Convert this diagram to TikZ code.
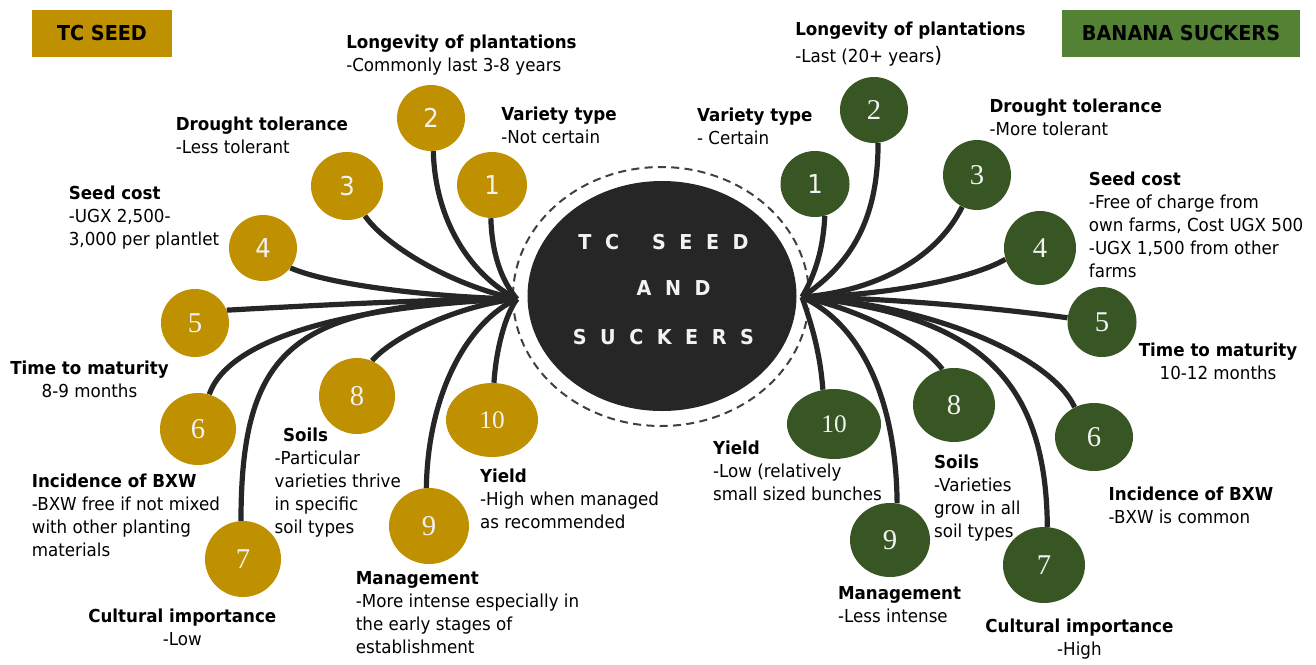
\documentclass[tikz,border=0pt]{standalone}
\usepackage{fontspec}
\setmainfont{DejaVu Sans}[FakeStretch=0.935]
\newfontfamily\numserif{Liberation Serif}
\usetikzlibrary{shapes.geometric}
\definecolor{gold}{HTML}{BF9000}
\definecolor{dgreen}{HTML}{375623}
\definecolor{lgreen}{HTML}{548235}
\definecolor{ink}{HTML}{262626}
\definecolor{dashc}{HTML}{404040}
\definecolor{numc}{HTML}{F2F2F2}
\newcommand\dsans{\fontsize{19.5}{19.5}\selectfont}
\newcommand\dserif{\numserif\fontsize{21.5}{21.5}\selectfont}
\newcommand\dten{\numserif\fontsize{19}{19}\selectfont}
\newlength\ltrsp
\setlength\ltrsp{10.1pt}
\pgfdeclarelayer{bg}
\pgfsetlayers{bg,main}
\begin{document}
\begin{tikzpicture}[x=0.75pt,y=-0.75pt,
  gcirc/.style 2 args={ellipse, fill=gold, minimum width=#1*1.5pt, minimum height=#2*1.5pt, inner sep=0pt, text=numc},
  rcirc/.style 2 args={ellipse, fill=dgreen, minimum width=#1*1.5pt, minimum height=#2*1.5pt, inner sep=0pt, text=numc},
  tb/.style={anchor=north west, inner sep=0pt, align=left, font=\fontsize{13.4}{17.25}\selectfont},
  tbc/.style={anchor=north, inner sep=0pt, align=center, font=\fontsize{13.4}{17.25}\selectfont},
  conn/.style={draw=ink, line width=3.9pt},
  ctext/.style={inner sep=0pt, text=numc, font=\fontsize{15.4}{15.4}\selectfont\bfseries},
  titlebox/.style={minimum height=35.25pt, inner sep=0pt, font=\fontsize{15.4}{15.4}\selectfont\bfseries}
]
\useasboundingbox (0,0) rectangle (1316,664);

% title boxes
\node[titlebox, fill=gold, minimum width=105pt] (tcbox) at (102,33.5) {TC SEED};
\node[titlebox, fill=lgreen, minimum width=178.5pt] (bsbox) at (1181,33.5) {BANANA SUCKERS};

% gold circles
\node[gcirc={35}{33}, font=\dsans] (g1) at (492,185) {1};
\node[gcirc={34}{33}, font=\dsans] (g2) at (431,118) {2};
\node[gcirc={36}{34}, font=\dsans] (g3) at (347,186) {3};
\node[gcirc={34}{33}, font=\dsans] (g4) at (263,248) {4};
\node[gcirc={34}{34}, font=\dserif] (g5) at (195,323) {5};
\node[gcirc={38}{36}, font=\dserif] (g6) at (198,429) {6};
\node[gcirc={38}{38}, font=\dserif] (g7) at (243,559) {7};
\node[gcirc={38}{38}, font=\dserif] (g8) at (357,396) {8};
\node[gcirc={40}{38}, font=\dserif] (g9) at (429,526) {9};
\node[gcirc={46}{37}, font=\dten] (g10) at (492,420) {10};

% green circles
\node[rcirc={34.5}{33}, font=\dsans] (r1) at (815,184) {1};
\node[rcirc={34}{33}, font=\dserif] (r2) at (874,110) {2};
\node[rcirc={34}{35}, font=\dserif] (r3) at (977,175) {3};
\node[rcirc={36}{37}, font=\dserif] (r4) at (1040,248) {4};
\node[rcirc={34.5}{35}, font=\dserif] (r5) at (1102,322) {5};
\node[rcirc={39}{34}, font=\dserif] (r6) at (1094,437) {6};
\node[rcirc={41}{38}, font=\dserif] (r7) at (1044,565) {7};
\node[rcirc={41}{37}, font=\dserif] (r8) at (954,405) {8};
\node[rcirc={40}{37}, font=\dserif] (r9) at (890,540) {9};
\node[rcirc={47}{35}, font=\dten] (r10) at (834,424) {10};

% hub points
\coordinate (hl) at (517,299);
\coordinate (hr) at (802,297);

\begin{pgfonlayer}{bg}
\fill[white] (0,0) rectangle (1316,664);
\node[ellipse, draw=dashc, line width=1.5pt, dash pattern=on 6pt off 4pt, minimum width=222pt, minimum height=194.25pt, inner sep=0pt] (ring) at (661,296.5) {};
% left connectors
\draw[conn] (g1.-92) .. controls (492,260) and (505,285) .. (hl);
\draw[conn] (g2.-86) .. controls (435,220) and (470,275) .. (hl);
\draw[conn] (g3.-59) .. controls (385,245) and (450,285) .. (hl);
\draw[conn] (g4.-36) .. controls (330,285) and (430,297) .. (hl);
\draw[conn] (g5.22) .. controls (320,305) and (440,299) .. (hl);
\draw[conn] (g6.72) .. controls (230,335) and (360,305) .. (hl);
\draw[conn] (g7.93) .. controls (241,340) and (300,305) .. (hl);
\draw[conn] (g8.67) .. controls (395,335) and (460,305) .. (hl);
\draw[conn] (g9.94) .. controls (428,390) and (470,320) .. (hl);
\draw[conn] (g10.87) .. controls (496,350) and (505,315) .. (hl);
% right connectors
\draw[conn] (r1.-73) .. controls (823,255) and (812,280) .. (hr);
\draw[conn] (r2.-83) .. controls (878,210) and (858,260) .. (hr);
\draw[conn] (r3.-115) .. controls (935,262) and (870,292) .. (hr);
\draw[conn] (r4.198) .. controls (970,280) and (880,296) .. (hr);
\draw[conn] (r5.173) .. controls (980,306) and (880,298) .. (hr);
\draw[conn] (r6.123) .. controls (1050,355) and (930,305) .. (hr);
\draw[conn] (r7.85) .. controls (1046,380) and (980,315) .. (hr);
\draw[conn] (r8.108) .. controls (920,340) and (860,310) .. (hr);
\draw[conn] (r9.79) .. controls (896,400) and (862,325) .. (hr);
\draw[conn] (r10.108) .. controls (820,350) and (810,320) .. (hr);
\end{pgfonlayer}

% central ellipse
\node[ellipse, fill=ink, minimum width=201.75pt, minimum height=172.5pt, inner sep=0pt] (hub) at (662,296) {};
\node[ctext] (c1) at (663.5,241.7) {T\hspace{\ltrsp}C\hspace{24.75pt}S\hspace{\ltrsp}E\hspace{\ltrsp}E\hspace{\ltrsp}D};
\node[ctext] (c2) at (673.6,288) {A\hspace{\ltrsp}N\hspace{\ltrsp}D};
\node[ctext] (c3) at (663.4,336.7) {S\hspace{\ltrsp}U\hspace{\ltrsp}C\hspace{\ltrsp}K\hspace{\ltrsp}E\hspace{\ltrsp}R\hspace{\ltrsp}S};

% left texts
\node[tb] (lt1) at (346,34.7) {\textbf{Longevity of plantations}\\-Commonly last 3-8 years};
\node[tb] (lt2) at (501,106.3) {\textbf{Variety type}\\-Not certain};
\node[tb] (lt3) at (175.5,117) {\textbf{Drought tolerance}\\-Less tolerant};
\node[tb] (lt4) at (68.6,185.7) {\textbf{Seed cost}\\-UGX 2,500-\\3,000 per plantlet};
\node[tbc] (lt5) at (89.5,360.7) {\textbf{Time to maturity}\\8-9 months};
\node[tb] (lt6) at (31.6,473.7) {\textbf{Incidence of BXW}\\-BXW free if not mixed\\with other planting\\materials};
\node[tb] (lt7) at (274.4,428) {\hspace*{6.3pt}\textbf{Soils}\\-Particular\\varieties thrive\\in specific\\soil types};
\node[tb] (lt8) at (479.8,468.7) {\textbf{Yield}\\-High when managed\\as recommended};
\node[tb] (lt9) at (355.6,571.3) {\textbf{Management}\\-More intense especially in\\the early stages of\\establishment};
\node[tbc] (lt10) at (182.3,609) {\textbf{Cultural importance}\\-Low};

% right texts
\node[tb] (rt1) at (795,21.3) {\textbf{Longevity of plantations}\\[3.5pt]-Last (20+ years{\fontsize{16}{16}\selectfont )}};
\node[tb] (rt2) at (696.8,108) {\textbf{Variety type}\\- Certain};
\node[tb] (rt3) at (989.3,99) {\textbf{Drought tolerance}\\-More tolerant};
\node[tb] (rt4) at (1088.7,171.3) {\textbf{Seed cost}\\-Free of charge from\\own farms, Cost UGX 500\\-UGX 1,500 from other\\farms};
\node[tbc] (rt5) at (1218,343) {\textbf{Time to maturity}\\10-12 months};
\node[tb] (rt6) at (1108.4,486.3) {\textbf{Incidence of BXW}\\-BXW is common};
\node[tb] (rt7) at (712.8,440.3) {\textbf{Yield}\\-Low (relatively\\small sized bunches};
\node[tb] (rt8) at (933.8,454.7) {\textbf{Soils}\\-Varieties\\grow in all\\soil types};
\node[tb] (rt9) at (837.8,586.3) {\textbf{Management}\\-Less intense};
\node[tbc] (rt10) at (1079.4,619) {\textbf{Cultural importance}\\-High};
\end{tikzpicture}
\end{document}
